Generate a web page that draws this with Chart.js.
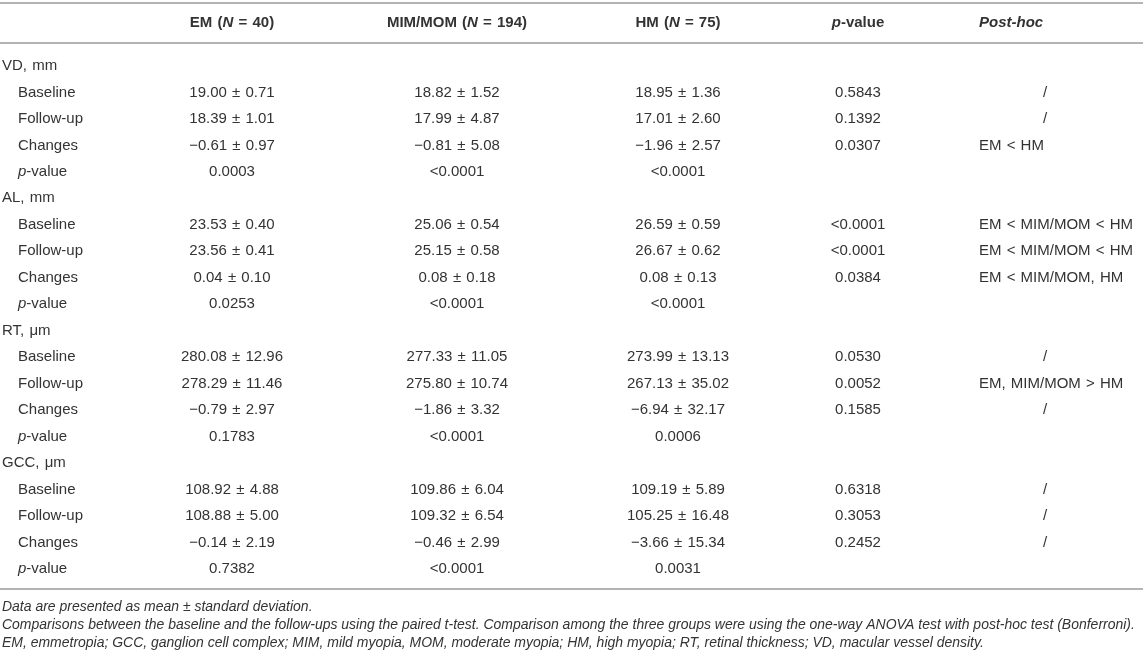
<!DOCTYPE html>
<html>
<head>
<meta charset="utf-8">
<script src="https://cdn.jsdelivr.net/npm/chart.js@4.4.1/dist/chart.umd.min.js"></script>
<style>
  html, body { margin: 0; padding: 0; background: #fff; }
</style>
</head>
<body>
<canvas id="table" width="1143" height="657"></canvas>
<script>
// table content
const groups = ['VD, mm', 'AL, mm', 'RT, μm', 'GCC, μm'];
const measures = ['Baseline', 'Follow-up', 'Changes', 'p-value'];

const em = ['19.00 ± 0.71', '18.39 ± 1.01', '−0.61 ± 0.97', '0.0003',
    '23.53 ± 0.40', '23.56 ± 0.41', '0.04 ± 0.10', '0.0253',
    '280.08 ± 12.96', '278.29 ± 11.46', '−0.79 ± 2.97', '0.1783',
    '108.92 ± 4.88', '108.88 ± 5.00', '−0.14 ± 2.19', '0.7382'];
const mimMom = ['18.82 ± 1.52', '17.99 ± 4.87', '−0.81 ± 5.08', '<0.0001',
    '25.06 ± 0.54', '25.15 ± 0.58', '0.08 ± 0.18', '<0.0001',
    '277.33 ± 11.05', '275.80 ± 10.74', '−1.86 ± 3.32', '<0.0001',
    '109.86 ± 6.04', '109.32 ± 6.54', '−0.46 ± 2.99', '<0.0001'];
const hm = ['18.95 ± 1.36', '17.01 ± 2.60', '−1.96 ± 2.57', '<0.0001',
    '26.59 ± 0.59', '26.67 ± 0.62', '0.08 ± 0.13', '<0.0001',
    '273.99 ± 13.13', '267.13 ± 35.02', '−6.94 ± 32.17', '0.0006',
    '109.19 ± 5.89', '105.25 ± 16.48', '−3.66 ± 15.34', '0.0031'];
const groupP = ['0.5843', '0.1392', '0.0307', '',
    '<0.0001', '<0.0001', '0.0384', '',
    '0.0530', '0.0052', '0.1585', '',
    '0.6318', '0.3053', '0.2452', ''];
const postHoc = ['/', '/', 'EM < HM', '',
    'EM < MIM/MOM < HM', 'EM < MIM/MOM < HM', 'EM < MIM/MOM, HM', '',
    '/', 'EM, MIM/MOM > HM', '/', '',
    '/', '/', '/', ''];

// header cells as runs of [text, italic]
const headers = [
    [['EM (', 0], ['N', 1], [' = 40)', 0]],
    [['MIM/MOM (', 0], ['N', 1], [' = 194)', 0]],
    [['HM (', 0], ['N', 1], [' = 75)', 0]],
    [['p', 1], ['-value', 0]],
    [['Post-hoc', 1]]
];

const notes = [
    'Data are presented as mean ± standard deviation.',
    'Comparisons between the baseline and the follow-ups using the paired t-test. Comparison among the three groups were using the one-way ANOVA test with post-hoc test (Bonferroni).',
    'EM, emmetropia; GCC, ganglion cell complex; MIM, mild myopia, MOM, moderate myopia; HM, high myopia; RT, retinal thickness; VD, macular vessel density.'
];

// layout (pixels on x, row index on y)
const groupX = 2, measureX = 18;
const columnX = [232, 457, 678, 858];
const postHocX = 979, slashX = 1045;
const headerRow = -1.62;
const ruleRows = [-2.38, -0.87, 19.76];
const noteRows = [20.44, 21.12, 21.8];
const noteWidth = 1134;
const FONT = '"Liberation Sans", Arial, Helvetica, sans-serif';
const TEXT = '#333333';

function cell(x, y, text, align, kind) {
    return {x: x, y: y, text: text, align: align, kind: kind};
}

// row labels
const labelCells = [];
groups.forEach((g, gi) => {
    labelCells.push(cell(groupX, gi * 5, g, 'left', 'label'));
    measures.forEach((m, mi) => labelCells.push(cell(measureX, gi * 5 + mi + 1, m, 'left', 'label')));
});

function valueCells(values, x) {
    return values.map((v, i) => cell(x, Math.floor(i / 4) * 5 + (i % 4) + 1, v, 'center', 'value'));
}

const postHocCells = postHoc.map((v, i) => cell(v === '/' ? slashX : postHocX,
    Math.floor(i / 4) * 5 + (i % 4) + 1, v, v === '/' ? 'center' : 'left', 'value'));

const headerCells = headers.map((runs, i) => cell(i < 4 ? columnX[i] : postHocX, headerRow, runs,
    i < 4 ? 'center' : 'left', 'header'));

const noteCells = notes.map((n, i) => cell(groupX, noteRows[i], n, 'left', 'note'));

function toRuns(text) {
    if (Array.isArray(text)) return text;
    if (text.startsWith('p-value')) return [['p', 1], [text.slice(1), 0]];
    return [[text, 0]];
}

function drawRuns(ctx, runs, x, y, align, size, bold, italicAll) {
    const fontFor = it => (it || italicAll ? 'italic ' : '') + (bold ? 'bold ' : '') + size + 'px ' + FONT;
    let width = 0;
    runs.forEach(r => { ctx.font = fontFor(r[1]); width += ctx.measureText(r[0]).width; });
    let cx = align === 'center' ? x - width / 2 : x;
    runs.forEach(r => {
        ctx.font = fontFor(r[1]);
        ctx.fillText(r[0], cx, y);
        cx += ctx.measureText(r[0]).width;
    });
}

// font size for the notes so the long line spans the table width
function noteSize(ctx) {
    ctx.font = 'italic 14px ' + FONT;
    const w = Math.max(...notes.map(n => ctx.measureText(n).width));
    return 14 * noteWidth / w;
}

const tablePlugin = {
    id: 'tableText',
    beforeDatasetsDraw(chart) {
        const ctx = chart.ctx, area = chart.chartArea, ys = chart.scales.y;
        ctx.save();
        ctx.strokeStyle = '#b4b4b4';
        ctx.lineWidth = 2;
        ruleRows.forEach(r => {
            const py = Math.round(ys.getPixelForValue(r));
            ctx.beginPath();
            ctx.moveTo(area.left, py);
            ctx.lineTo(area.right, py);
            ctx.stroke();
        });
        ctx.restore();
    },
    afterDatasetsDraw(chart) {
        const ctx = chart.ctx;
        ctx.save();
        ctx.fillStyle = TEXT;
        ctx.textAlign = 'left';
        ctx.textBaseline = 'middle';
        ctx.wordSpacing = '0px';
        const nSize = noteSize(ctx);
        chart.data.datasets.forEach((ds, di) => {
            const meta = chart.getDatasetMeta(di);
            meta.data.forEach((pt, i) => {
                const c = ds.data[i];
                if (!c.text) return;
                if (c.kind === 'note') {
                    ctx.wordSpacing = '0px';
                    drawRuns(ctx, [[c.text, 1]], pt.x, pt.y, 'left', nSize, false, true);
                    return;
                }
                ctx.wordSpacing = '1px';
                drawRuns(ctx, toRuns(c.text), pt.x, pt.y, c.align, 15, c.kind === 'header', false);
            });
        });
        ctx.restore();
    }
};

const allColumns = [em, mimMom, hm, groupP];

new Chart(document.getElementById('table').getContext('2d'), {
    type: 'scatter',
    data: {
        datasets: [
            {label: 'labels', data: labelCells},
            ...allColumns.map((vals, i) => ({label: 'col' + i, data: valueCells(vals, columnX[i])})),
            {label: 'postHoc', data: postHocCells},
            {label: 'headers', data: headerCells},
            {label: 'notes', data: noteCells}
        ]
    },
    options: {
        responsive: false,
        animation: false,
        layout: {padding: 0},
        elements: {point: {radius: 0, hoverRadius: 0}},
        scales: {
            x: {type: 'linear', min: 0, max: 1143, display: false},
            y: {type: 'linear', min: -2.493, max: 22.33, reverse: true, display: false}
        },
        plugins: {legend: {display: false}, tooltip: {enabled: false}}
    },
    plugins: [tablePlugin]
});
</script>
</body>
</html>
